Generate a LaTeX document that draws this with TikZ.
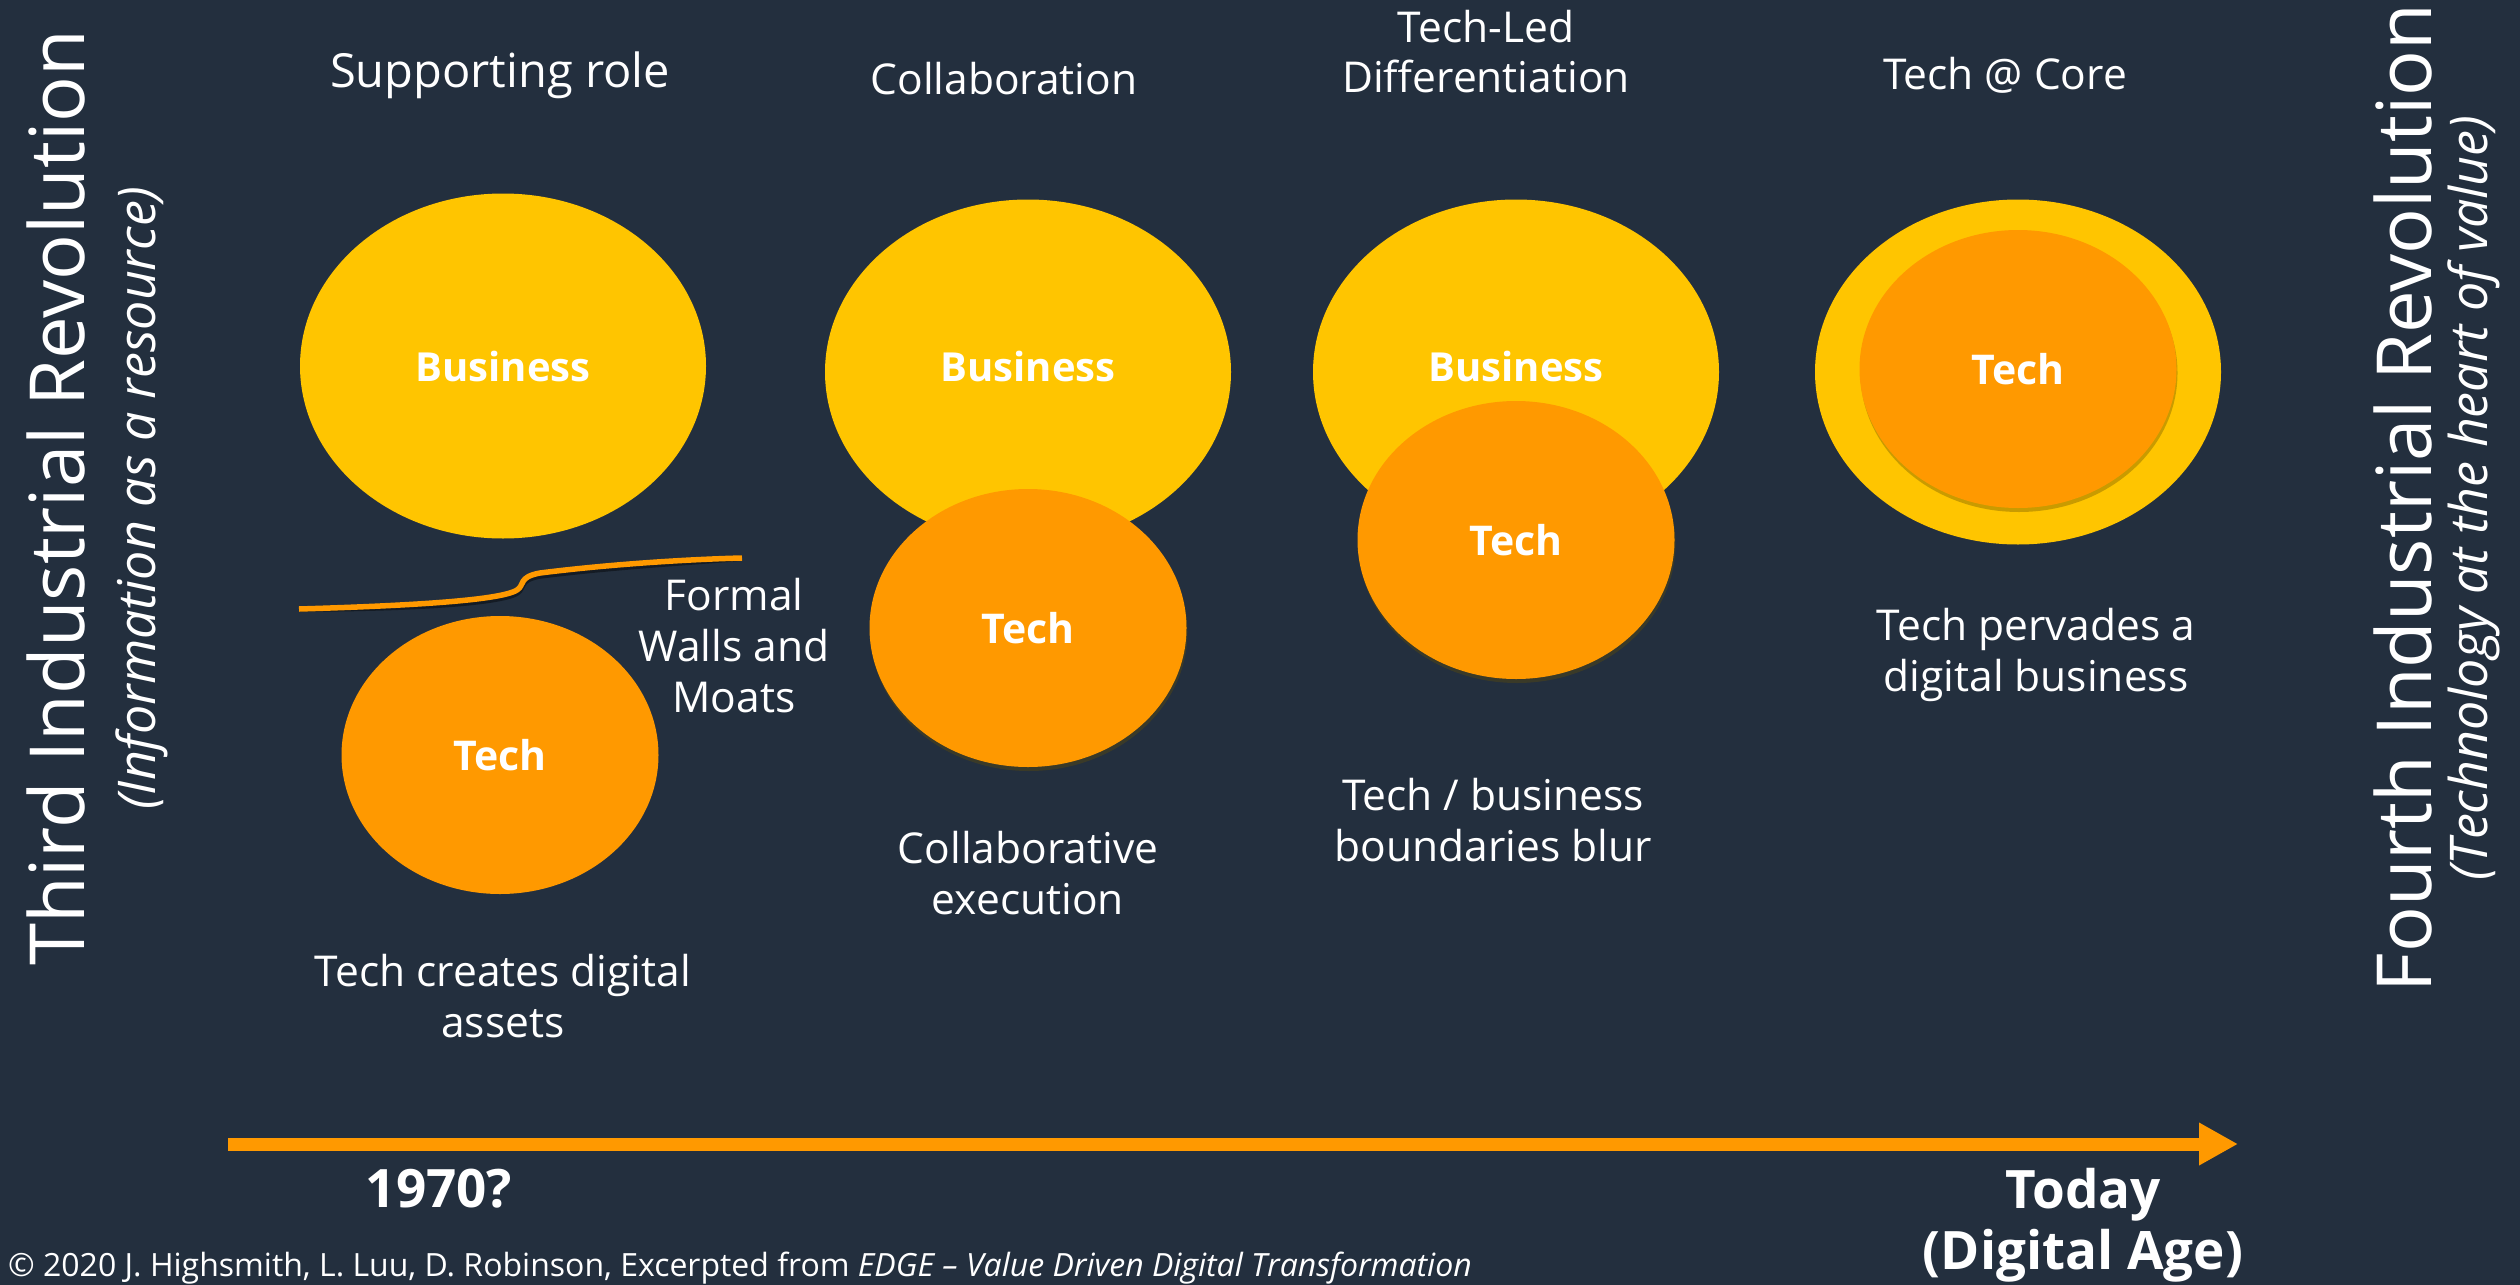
\documentclass[tikz,border=0pt]{standalone}
\usepackage{fontspec}
\setmainfont{Open Sans}
\usetikzlibrary{shapes.geometric,arrows.meta,shadows}
\definecolor{bg}{HTML}{232F3E}
\definecolor{biz}{HTML}{FFC500}
\definecolor{tech}{HTML}{FF9900}
\tikzset{
  bizell/.style={ellipse,fill=biz,minimum width=406pt,minimum height=345pt,inner sep=0pt,text=white,font=\fontsize{40}{48}\selectfont\bfseries},
  techell/.style={ellipse,fill=tech,minimum width=317pt,minimum height=278pt,inner sep=0pt,text=white,font=\fontsize{41}{48}\selectfont\bfseries},
  shad/.style={drop shadow={opacity=0.35,shadow xshift=1pt,shadow yshift=-4pt,fill=black!60!biz}},
  hdr/.style={text=white,align=center,font=\fontsize{42.5}{50}\selectfont,inner sep=0pt},
  body/.style={text=white,align=center,font=\fontsize{42.5}{51}\selectfont,inner sep=0pt},
  era/.style={text=white,rotate=90,inner sep=0pt,font=\fontsize{76}{80}\selectfont},
  erasub/.style={text=white,rotate=90,inner sep=0pt,font=\fontsize{52}{56}\selectfont\itshape},
  datelbl/.style={text=white,align=center,inner sep=0pt,font=\fontsize{53}{61}\selectfont\bfseries},
}
\begin{document}
\begin{tikzpicture}[x=1pt,y=-1pt]
\fill[bg] (0,0) rectangle (2520,1285);
\useasboundingbox (0,0) rectangle (2520,1285);

% stage 1
\node[bizell] (b1) at (503,366) {Business};
\node[techell] (t1) at (500,755) {Tech};
\coordinate (w1) at (299,609);
\coordinate (w2) at (742,558);
\draw[black!70!bg,line width=5.5pt,opacity=0.6,yshift=-3pt] (w1) .. controls (400,606) and (500,601) .. (517,590) .. controls (525,585) and (518,577) .. (540,573) .. controls (620,563) and (700,559) .. (w2);
\draw[tech,line width=5.5pt] (w1) .. controls (400,606) and (500,601) .. (517,590) .. controls (525,585) and (518,577) .. (540,573) .. controls (620,563) and (700,559) .. (w2);

% stage 2
\node[bizell] (b2) at (1028,372) {};
\node[techell,shad] (t2) at (1028,628) {Tech};
\node[text=white,font=\fontsize{40}{48}\selectfont\bfseries] (b2l) at (1028,366) {Business};

% stage 3
\node[bizell] (b3) at (1516,372) {};
\node[techell,shad] (t3) at (1516,540) {Tech};
\node[text=white,font=\fontsize{40}{48}\selectfont\bfseries] (b3l) at (1516,366) {Business};

% stage 4
\node[bizell] (b4) at (2018,372) {};
\node[techell,shad] (t4) at (2018,369) {Tech};

% headers
\node[hdr,font=\fontsize{47}{54}\selectfont] (h1) at (500,75) {Supporting role};
\node[hdr] (h2) at (1004,79) {Collaboration};
\node[hdr] (h3) at (1486,52) {Tech-Led\\Differentiation};
\node[hdr] (h4) at (2005,75) {Tech @ Core};

% descriptions
\node[body] (d0) at (734,646) {Formal\\Walls and\\Moats};
\node[body] (d1) at (503,996) {Tech creates digital\\assets};
\node[body] (d2) at (1028,873) {Collaborative\\execution};
\node[body] (d3) at (1493,820) {Tech / business\\boundaries blur};
\node[body] (d4) at (2036,655) {Tech pervades a\\digital business};

% era labels
\node[era] (e1) at (56,498) {Third Industrial Revolution};
\node[erasub] (e1s) at (142,498) {(Information as a resource)};
\node[era] (e2) at (2403,498) {Fourth Industrial Revolution};
\node[erasub] (e2s) at (2474,498) {(Technology at the heart of value)};

% time arrow
\coordinate (a0) at (228,1144);
\coordinate (a1) at (2238,1144);
\draw[tech,line width=13pt,-{Triangle[length=39pt,width=40pt]}] (a0) -- (a1);
\node[datelbl] (y1) at (439,1189) {1970?};
\node[datelbl] (y2) at (2083,1225) {Today\\(Digital Age)};

% copyright
\node[text=white,anchor=west,inner sep=0pt,font=\fontsize{32}{36}\selectfont] (cr) at (8,1268) {© 2020 J. Highsmith, L. Luu, D. Robinson, Excerpted from \textit{EDGE – Value Driven Digital Transformation}};
\end{tikzpicture}
\end{document}
